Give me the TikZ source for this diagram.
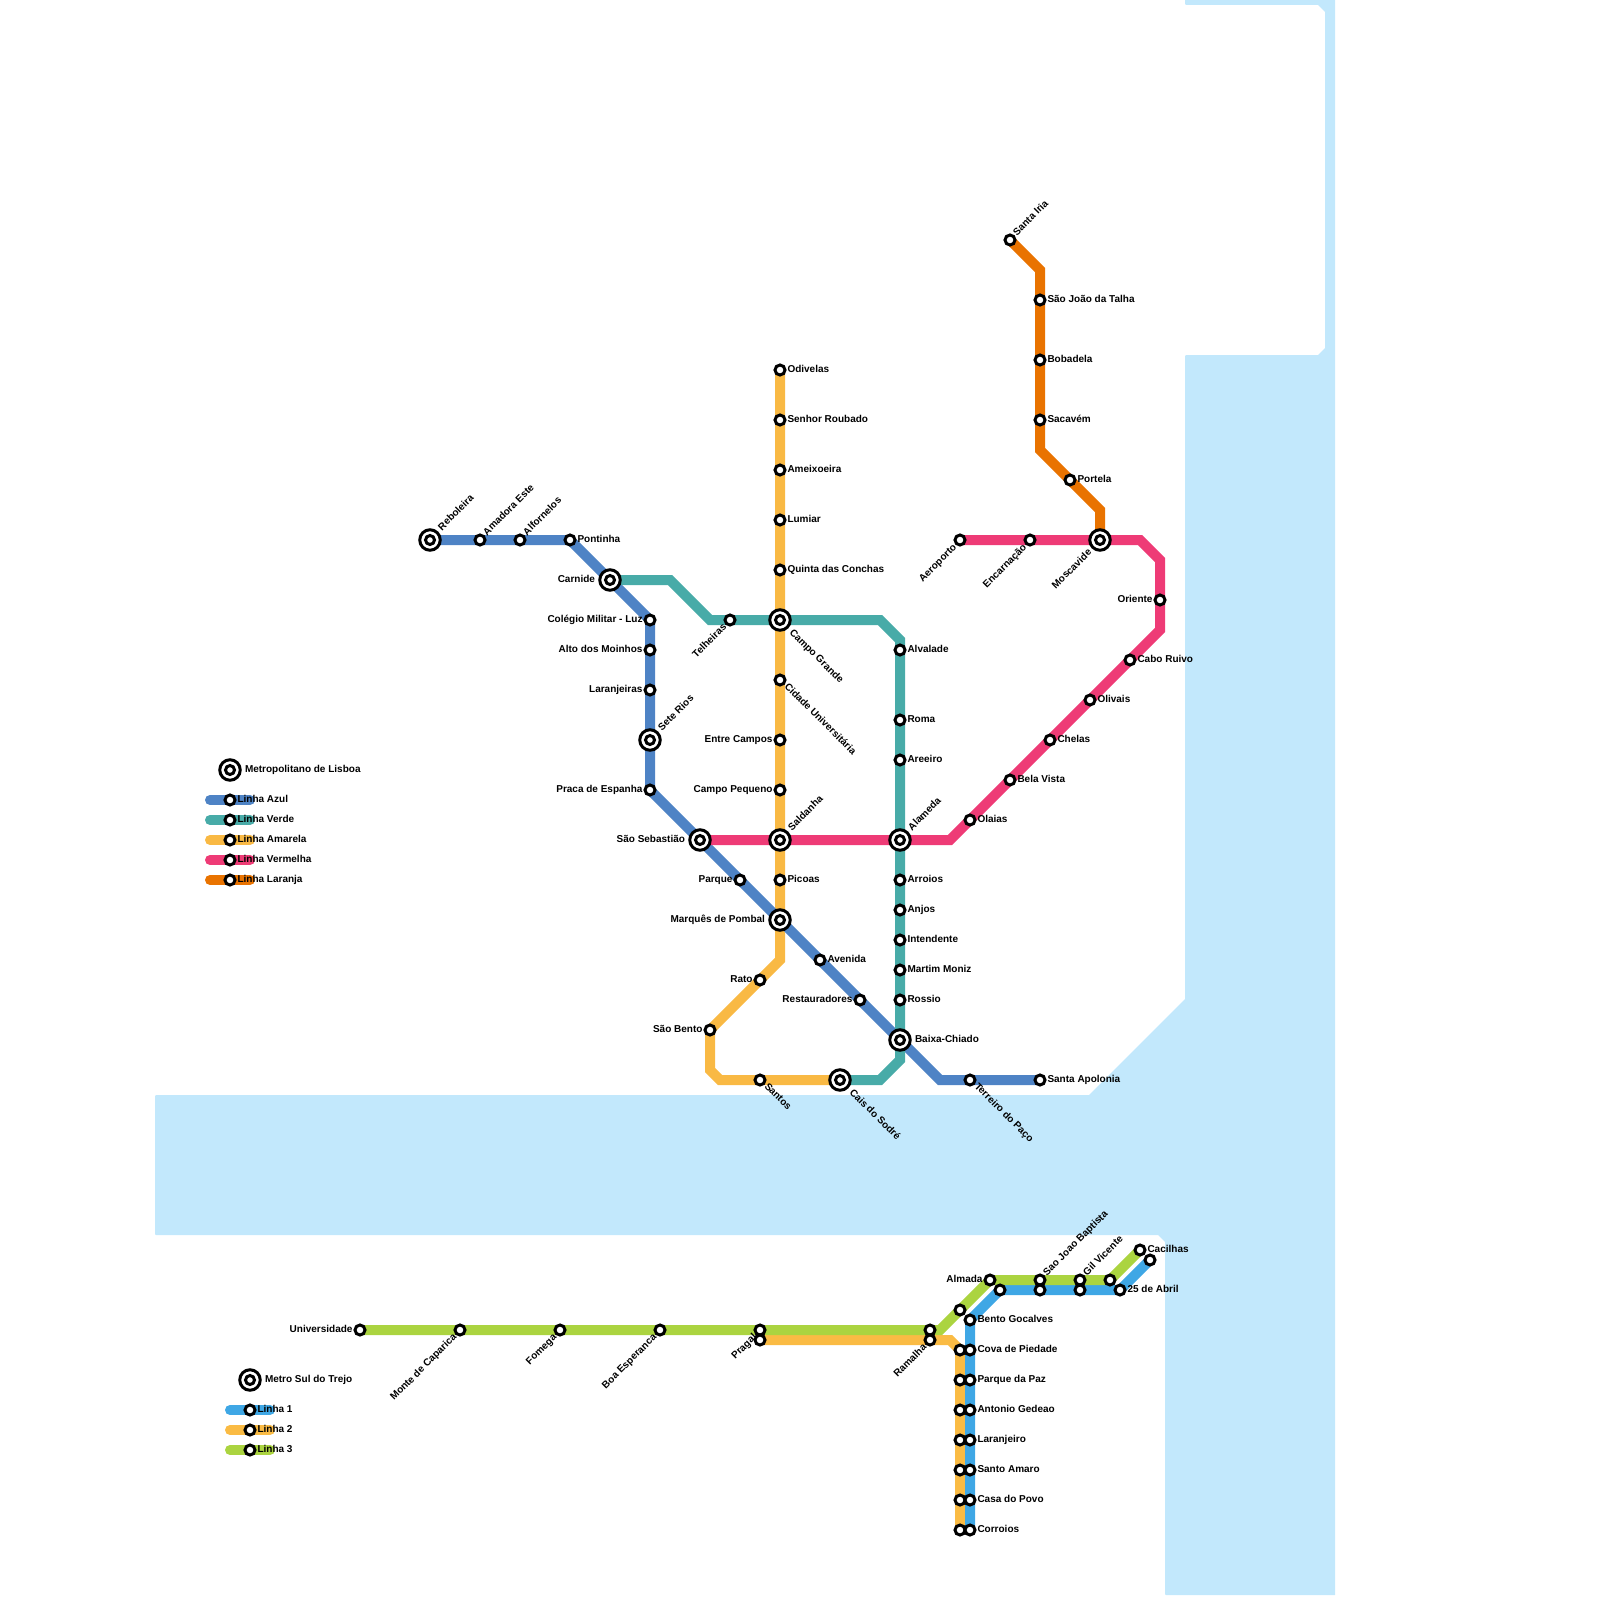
\documentclass[tikz,border=0pt]{standalone}
\usepackage{fontspec}
\setmainfont{Liberation Sans}
\usetikzlibrary{backgrounds}
\definecolor{water}{HTML}{C2E8FC}
\definecolor{azul}{HTML}{4E83C5}
\definecolor{verde}{HTML}{48ABA8}
\definecolor{amarela}{HTML}{F9B944}
\definecolor{vermelha}{HTML}{EE3B76}
\definecolor{laranja}{HTML}{E97300}
\definecolor{sulum}{HTML}{3FA7E5}
\definecolor{suldois}{HTML}{FABB44}
\definecolor{sultres}{HTML}{ABD440}
\tikzset{
  stnode/.style={circle,draw=black,fill=white,line width=3pt,minimum size=10pt,inner sep=0pt},
  hubnode/.style={circle,draw=black,fill=white,line width=3pt,minimum size=20.5pt,inner sep=0pt,
    path picture={\draw[line width=3pt] (path picture bounding box.center) circle[radius=4.5pt];}},
  txt/.style={font=\fontsize{10}{12}\selectfont\bfseries,text=black,inner sep=0pt,outer sep=0pt},
  lr/.style={txt,anchor=base west,xshift=7.5pt,yshift=-2.5pt},
  ll/.style={txt,anchor=base east,xshift=-7.5pt,yshift=-2.5pt},
  hr/.style={txt,anchor=base west,xshift=15pt,yshift=-2.5pt},
  hl/.style={txt,anchor=base east,xshift=-15pt,yshift=-2.5pt},
  lur/.style={txt,anchor=base west,xshift=7pt,yshift=4pt,rotate=45},
  hur/.style={txt,anchor=base west,xshift=12pt,yshift=9pt,rotate=45},
  ldr/.style={txt,anchor=base west,xshift=4pt,yshift=-7pt,rotate=-45},
  hdr/.style={txt,anchor=base west,xshift=9pt,yshift=-13pt,rotate=-45},
  ldl/.style={txt,anchor=base east,xshift=-3pt,yshift=-8pt,rotate=45},
  hdl/.style={txt,anchor=base east,xshift=-8pt,yshift=-13pt,rotate=45},
  route/.style={line width=10pt,line cap=round,line join=miter,miter limit=10,draw=#1},
}
\newcommand{\stn}[5]{\node[stnode] (#1) at (#2,#3) {}; \node[#4] (#1-t) at (#1) {#5};}
\newcommand{\hubn}[5]{\node[hubnode] (#1) at (#2,#3) {}; \node[#4] (#1-t) at (#1) {#5};}
\newcommand{\bare}[3]{\node[stnode] (#1) at (#2,#3) {};}
\begin{document}
\begin{tikzpicture}[x=1pt,y=-1pt]
\useasboundingbox (0,0) rectangle (1600,1600);
% legend, Lisbon
\hubn{lgm}{230}{770}{hr}{Metropolitano de Lisboa}
\stn{lga}{230}{800}{lr}{Linha Azul}
\stn{lgv}{230}{820}{lr}{Linha Verde}
\stn{lgm2}{230}{840}{lr}{Linha Amarela}
\stn{lgr}{230}{860}{lr}{Linha Vermelha}
\stn{lgl}{230}{880}{lr}{Linha Laranja}
\foreach \n/\y in {a/800,v/820,m/840,r/860,l/880}{
  \coordinate (bar\n1) at (210,\y); \coordinate (bar\n2) at (250,\y);
}
% legend, south
\hubn{lgs}{250}{1380}{hr}{Metro Sul do Trejo}
\stn{lgs1}{250}{1410}{lr}{Linha 1}
\stn{lgs2}{250}{1430}{lr}{Linha 2}
\stn{lgs3}{250}{1450}{lr}{Linha 3}
\foreach \n/\y in {x/1410,y/1430,z/1450}{
  \coordinate (bar\n1) at (230,\y); \coordinate (bar\n2) at (270,\y);
}
% azul
\hubn{reboleira}{430}{540}{hur}{Reboleira}
\stn{amadora}{480}{540}{lur}{Amadora Este}
\stn{alfornelos}{520}{540}{lur}{Alfornelos}
\stn{pontinha}{570}{540}{lr}{Pontinha}
\hubn{carnide}{610}{580}{hl}{Carnide}
\stn{colegio}{650}{620}{ll}{Colégio Militar - Luz}
\stn{moinhos}{650}{650}{ll}{Alto dos Moinhos}
\stn{laranjeiras}{650}{690}{ll}{Laranjeiras}
\hubn{seterios}{650}{740}{hur}{Sete Rios}
\stn{espanha}{650}{790}{ll}{Praca de Espanha}
\hubn{sebastiao}{700}{840}{hl}{São Sebastião}
\stn{parque}{740}{880}{ll}{Parque}
\hubn{marques}{780}{920}{hl}{Marquês de Pombal}
\stn{avenida}{820}{960}{lr}{Avenida}
\stn{restauradores}{860}{1000}{ll}{Restauradores}
\hubn{baixa}{900}{1040}{hr}{Baixa-Chiado}
\coordinate (bz1) at (940,1080);
\stn{terreiro}{970}{1080}{ldr}{Terreiro do Paço}
\stn{apolonia}{1040}{1080}{lr}{Santa Apolonia}
% verde
\coordinate (gz1) at (670,580);
\coordinate (gz2) at (710,620);
\stn{telheiras}{730}{620}{ldl}{Telheiras}
\hubn{campogrande}{780}{620}{hdr}{Campo Grande}
\coordinate (gz3) at (880,620);
\coordinate (gz4) at (900,640);
\stn{alvalade}{900}{650}{lr}{Alvalade}
\stn{roma}{900}{720}{lr}{Roma}
\stn{areeiro}{900}{760}{lr}{Areeiro}
\hubn{alameda}{900}{840}{hur}{Alameda}
\stn{arroios}{900}{880}{lr}{Arroios}
\stn{anjos}{900}{910}{lr}{Anjos}
\stn{intendente}{900}{940}{lr}{Intendente}
\stn{martim}{900}{970}{lr}{Martim Moniz}
\stn{rossio}{900}{1000}{lr}{Rossio}
\coordinate (gz5) at (900,1060);
\coordinate (gz6) at (880,1080);
\hubn{cais}{840}{1080}{hdr}{Cais do Sodré}
% amarela
\stn{odivelas}{780}{370}{lr}{Odivelas}
\stn{senhor}{780}{420}{lr}{Senhor Roubado}
\stn{ameixoeira}{780}{470}{lr}{Ameixoeira}
\stn{lumiar}{780}{520}{lr}{Lumiar}
\stn{quinta}{780}{570}{lr}{Quinta das Conchas}
\stn{cidade}{780}{680}{ldr}{Cidade Universitária}
\stn{entrecampos}{780}{740}{ll}{Entre Campos}
\stn{campopequeno}{780}{790}{ll}{Campo Pequeno}
\hubn{saldanha}{780}{840}{hur}{Saldanha}
\stn{picoas}{780}{880}{lr}{Picoas}
\coordinate (yz1) at (780,960);
\stn{rato}{760}{980}{ll}{Rato}
\stn{saobento}{710}{1030}{ll}{São Bento}
\coordinate (yz2) at (710,1070);
\coordinate (yz3) at (720,1080);
\stn{santos}{760}{1080}{ldr}{Santos}
% vermelha
\coordinate (rz1) at (950,840);
\stn{olaias}{970}{820}{lr}{Olaias}
\stn{belavista}{1010}{780}{lr}{Bela Vista}
\stn{chelas}{1050}{740}{lr}{Chelas}
\stn{olivais}{1090}{700}{lr}{Olivais}
\stn{caboruivo}{1130}{660}{lr}{Cabo Ruivo}
\coordinate (rz2) at (1160,630);
\stn{oriente}{1160}{600}{ll}{Oriente}
\coordinate (rz3) at (1160,560);
\coordinate (rz4) at (1140,540);
\hubn{moscavide}{1100}{540}{hdl}{Moscavide}
\stn{encarnacao}{1030}{540}{ldl}{Encarnação}
\stn{aeroporto}{960}{540}{ldl}{Aeroporto}
% laranja
\stn{santairia}{1010}{240}{lur}{Santa Iria}
\coordinate (oz1) at (1040,270);
\stn{talha}{1040}{300}{lr}{São João da Talha}
\stn{bobadela}{1040}{360}{lr}{Bobadela}
\stn{sacavem}{1040}{420}{lr}{Sacavém}
\coordinate (oz2) at (1040,450);
\stn{portela}{1070}{480}{lr}{Portela}
\coordinate (oz3) at (1100,510);
% sul, linha 3
\stn{universidade}{360}{1330}{ll}{Universidade}
\stn{caparica}{460}{1330}{ldl}{Monte de Caparica}
\stn{fomega}{560}{1330}{ldl}{Fomega}
\stn{esperanca}{660}{1330}{ldl}{Boa Esperanca}
\stn{pragalv}{760}{1330}{ldl}{Pragal}
\bare{ramalhav}{930}{1330}
\coordinate (vz1) at (940,1330);
\bare{sv1}{960}{1310}
\stn{almada}{990}{1280}{ll}{Almada}
\stn{sjbaptista}{1040}{1280}{lur}{Sao Joao Baptista}
\stn{gilvicente}{1080}{1280}{lur}{Gil Vicente}
\bare{sv2}{1110}{1280}
\stn{cacilhas}{1140}{1250}{lr}{Cacilhas}
% sul, linha 2
\bare{pragal}{760}{1340}
\stn{ramalha}{930}{1340}{ldl}{Ramalha}
\coordinate (sz1) at (950,1340);
\foreach \n/\y in {a/1350,b/1380,c/1410,d/1440,e/1470,f/1500,g/1530}{\bare{sy\n}{960}{\y}}
% sul, linha 1
\bare{cacilhasb}{1150}{1260}
\stn{abril}{1120}{1290}{lr}{25 de Abril}
\bare{gilb}{1080}{1290}
\bare{sjb}{1040}{1290}
\bare{sb1}{1000}{1290}
\stn{bento}{970}{1320}{lr}{Bento Gocalves}
\stn{cova}{970}{1350}{lr}{Cova de Piedade}
\stn{parquepaz}{970}{1380}{lr}{Parque da Paz}
\stn{antonio}{970}{1410}{lr}{Antonio Gedeao}
\stn{laranjeiro}{970}{1440}{lr}{Laranjeiro}
\stn{santoamaro}{970}{1470}{lr}{Santo Amaro}
\stn{casapovo}{970}{1500}{lr}{Casa do Povo}
\stn{corroios}{970}{1530}{lr}{Corroios}
\begin{pgfonlayer}{background}
% water
\fill[water] (1318,355) -- (1325,348) -- (1325,12) -- (1318,5) -- (1186,5) -- (1185,4) -- (1185,-3) -- (1335,-3)
  -- (1335,1595) -- (1166,1595) -- (1165,1594) -- (1165,1242) -- (1158,1235) -- (156,1235) -- (155,1234) -- (155,1096) -- (156,1095) -- (1089,1095)
  -- (1185,999) -- (1185,356) -- (1186,355) -- cycle;
% legend bars
\draw[route=azul] (bara1) -- (bara2);
\draw[route=verde] (barv1) -- (barv2);
\draw[route=amarela] (barm1) -- (barm2);
\draw[route=vermelha] (barr1) -- (barr2);
\draw[route=laranja] (barl1) -- (barl2);
\draw[route=sulum] (barx1) -- (barx2);
\draw[route=suldois] (bary1) -- (bary2);
\draw[route=sultres] (barz1) -- (barz2);
% amarela
\draw[route=amarela] (odivelas.center) -- (senhor.center) -- (ameixoeira.center) -- (lumiar.center) -- (quinta.center) -- (campogrande.center) -- (cidade.center) -- (entrecampos.center) -- (campopequeno.center) -- (saldanha.center) -- (picoas.center) -- (marques.center) -- (yz1) -- (rato.center) -- (saobento.center) -- (yz2) -- (yz3) -- (santos.center) -- (cais.center);
% azul
\draw[route=azul] (reboleira.center) -- (amadora.center) -- (alfornelos.center) -- (pontinha.center) -- (carnide.center) -- (colegio.center) -- (moinhos.center) -- (laranjeiras.center) -- (seterios.center) -- (espanha.center) -- (sebastiao.center) -- (parque.center) -- (marques.center) -- (avenida.center) -- (restauradores.center) -- (baixa.center) -- (bz1) -- (terreiro.center) -- (apolonia.center);
% verde
\draw[route=verde] (carnide.center) -- (gz1) -- (gz2) -- (telheiras.center) -- (campogrande.center) -- (gz3) -- (gz4) -- (alvalade.center) -- (roma.center) -- (areeiro.center) -- (alameda.center) -- (arroios.center) -- (anjos.center) -- (intendente.center) -- (martim.center) -- (rossio.center) -- (baixa.center) -- (gz5) -- (gz6) -- (cais.center);
% vermelha
\draw[route=vermelha] (sebastiao.center) -- (saldanha.center) -- (alameda.center) -- (rz1) -- (olaias.center) -- (belavista.center) -- (chelas.center) -- (olivais.center) -- (caboruivo.center) -- (rz2) -- (oriente.center) -- (rz3) -- (rz4) -- (moscavide.center) -- (encarnacao.center) -- (aeroporto.center);
% laranja
\draw[route=laranja] (santairia.center) -- (oz1) -- (talha.center) -- (bobadela.center) -- (sacavem.center) -- (oz2) -- (portela.center) -- (oz3) -- (moscavide.center);
% sul
\draw[route=suldois] (pragal.center) -- (ramalha.center) -- (sz1) -- (sya.center) -- (syb.center) -- (syc.center) -- (syd.center) -- (sye.center) -- (syf.center) -- (syg.center);
\draw[route=sulum] (cacilhasb.center) -- (abril.center) -- (gilb.center) -- (sjb.center) -- (sb1.center) -- (bento.center) -- (cova.center) -- (parquepaz.center) -- (antonio.center) -- (laranjeiro.center) -- (santoamaro.center) -- (casapovo.center) -- (corroios.center);
\draw[route=sultres] (universidade.center) -- (caparica.center) -- (fomega.center) -- (esperanca.center) -- (pragalv.center) -- (ramalhav.center) -- (vz1) -- (sv1.center) -- (almada.center) -- (sjbaptista.center) -- (gilvicente.center) -- (sv2.center) -- (cacilhas.center);
\end{pgfonlayer}
\end{tikzpicture}
\end{document}
